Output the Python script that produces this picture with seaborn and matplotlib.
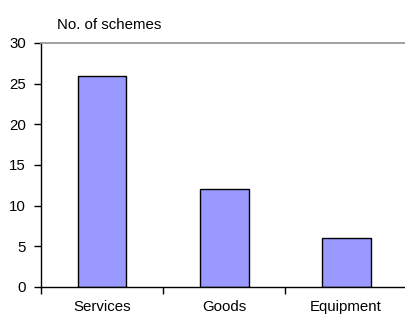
import numpy as np
import matplotlib
matplotlib.use("Agg")
import matplotlib.pyplot as plt
import seaborn as sns

# Data
categories = ["Services", "Goods", "Equipment"]
schemes = [26, 12, 6]

sns.set_style("white")
plt.rcParams['font.family'] = ['Liberation Sans', 'DejaVu Sans']
plt.rcParams['text.color'] = 'black'
plt.rcParams['xtick.color'] = 'black'
plt.rcParams['ytick.color'] = 'black'

fig = plt.figure(figsize=(4.06, 3.16), dpi=100)
ax = fig.add_axes([0.101, 0.092, 0.902, 0.772])

sns.barplot(x=categories, y=schemes, color="#9999FF", edgecolor="black",
            linewidth=1.0, width=0.4, saturation=1, ax=ax)

ax.set_xlim(-0.5, 2.5)
ax.set_ylim(0, 30)
ax.set_yticks(np.arange(0, 31, 5))
ax.set_xlabel("")
ax.set_ylabel("")

# category boundary ticks on the x axis
ax.set_xticks([-0.5, 0.5, 1.5, 2.5], minor=True)
ax.tick_params(axis="x", which="major", length=0, pad=9.5, labelsize=10.8,
               labelcolor="black")
ax.tick_params(axis="x", which="minor", length=5, width=1, color="black",
               direction="out", bottom=True)
ax.tick_params(axis="y", length=5, width=1, color="black", direction="out",
               left=True, labelsize=10.8, pad=6, labelcolor="black")

for side in ["left", "bottom"]:
    ax.spines[side].set_color("black")
    ax.spines[side].set_linewidth(1)
ax.spines["top"].set_color("#999999")
ax.spines["top"].set_linewidth(1.3)
ax.spines["right"].set_visible(False)

fig.text(0.268, 0.92, "No. of schemes", ha="center", va="center",
         fontsize=10.8, color="black")

fig.savefig("out.png", dpi=100)
